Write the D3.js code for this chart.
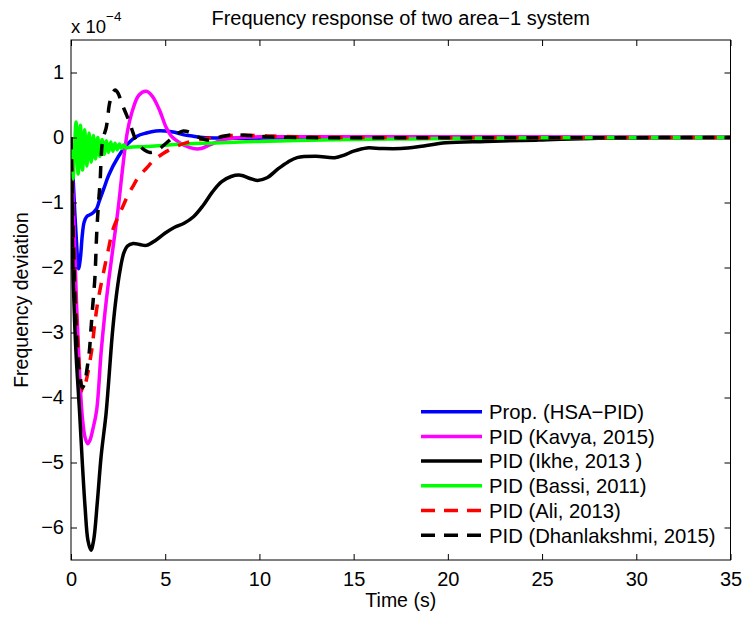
<!DOCTYPE html>
<html><head><meta charset="utf-8">
<script src="https://cdn.jsdelivr.net/npm/d3@7"></script>
<style>body{margin:0;background:#fff}svg{display:block}text{font-family:"Liberation Sans",Arial,Helvetica,sans-serif;fill:#000}</style>
</head><body><svg id="c" width="744" height="618"></svg>
<script>
const xTicks = [0,5,10,15,20,25,30,35];
const yTicks = [-6,-5,-4,-3,-2,-1,0,1];
const seriesNames = ["Prop. (HSA\u2212PID)","PID (Kavya, 2015)","PID (Ikhe, 2013 )","PID (Bassi, 2011)","PID (Ali, 2013)","PID (Dhanlakshmi, 2015)"];
const seriesColors = ["#0000ff","#ff00ff","#000000","#00ff00","#ff0000","#000000"];
const seriesDashed = [false,false,false,false,true,true];

const hsaPid = [[0,0],[0.1,-0.55],[0.2,-1.15],[0.3,-1.65],[0.4,-2.02],[0.5,-1.85],[0.6,-1.5],[0.7,-1.3],[0.85,-1.21],[1.0,-1.19],[1.2,-1.15],[1.35,-1.1],[1.5,-0.98],[1.75,-0.78],[2.0,-0.58],[2.5,-0.3],[3.0,-0.1],[3.5,0.02],[4.0,0.07],[4.5,0.1],[5.0,0.1],[5.5,0.08],[6.0,0.04],[6.5,0.02],[7,0.0],[8,-0.01],[10,-0.01],[14,0],[35,0]];
const kavya = [[0,0],[0.15,-1.3],[0.3,-2.6],[0.45,-3.6],[0.6,-4.3],[0.75,-4.62],[0.88,-4.71],[1.0,-4.66],[1.15,-4.5],[1.36,-4.2],[1.6,-3.3],[1.8,-2.7],[2.0,-2.2],[2.25,-1.65],[2.5,-1.1],[2.75,-0.45],[3.0,0.1],[3.3,0.45],[3.6,0.65],[4.0,0.71],[4.3,0.64],[4.7,0.42],[5.04,0.16],[5.3,0.03],[5.57,-0.04],[6.0,-0.12],[6.5,-0.17],[6.9,-0.17],[7.4,-0.11],[8,-0.04],[9,0.0],[10,0.01],[35,0]];
const ikhe = [[0,0],[0.05,-1.0],[0.1,-2.0],[0.2,-2.9],[0.3,-3.5],[0.45,-4.2],[0.6,-5.0],[0.75,-5.7],[0.9,-6.2],[1.06,-6.35],[1.2,-6.2],[1.4,-5.6],[1.6,-4.9],[1.86,-4.25],[2.0,-3.75],[2.2,-3.0],[2.4,-2.45],[2.6,-2.05],[2.8,-1.78],[3.0,-1.67],[3.3,-1.63],[3.7,-1.65],[4.0,-1.66],[4.5,-1.58],[5.0,-1.47],[5.5,-1.38],[6.0,-1.32],[6.5,-1.22],[7.0,-1.05],[7.5,-0.84],[8.0,-0.68],[8.5,-0.6],[9.0,-0.58],[9.5,-0.63],[9.9,-0.66],[10.4,-0.62],[11,-0.48],[11.5,-0.38],[12,-0.31],[13,-0.29],[14,-0.31],[14.5,-0.27],[15,-0.21],[15.7,-0.16],[16.5,-0.17],[17.5,-0.17],[18.5,-0.14],[19.9,-0.08],[22,-0.06],[24.8,-0.04],[28,-0.01],[35,0]];
const bassi = [[0,0],[0.1,-0.64],[0.27,0.24],[0.38,-0.56],[0.5,0.19],[0.61,-0.5],[0.73,0.12],[0.84,-0.44],[0.96,0.07],[1.07,-0.38],[1.19,0.03],[1.3,-0.33],[1.42,0.0],[1.53,-0.29],[1.65,-0.03],[1.76,-0.26],[1.88,-0.05],[1.99,-0.23],[2.11,-0.07],[2.22,-0.21],[2.34,-0.09],[2.45,-0.19],[2.57,-0.1],[2.68,-0.17],[2.8,-0.11],[2.91,-0.16],[3.1,-0.15],[4,-0.14],[5,-0.12],[6,-0.1],[7,-0.09],[8,-0.08],[10,-0.06],[12,-0.045],[14,-0.035],[17,-0.025],[20,-0.015],[25,-0.005],[30,0],[35,0]];
const ali = [[0,0],[0.1,-1.2],[0.2,-2.2],[0.35,-3.1],[0.5,-3.7],[0.65,-3.9],[0.8,-3.75],[0.94,-3.55],[1.11,-3.25],[1.24,-2.92],[1.41,-2.55],[1.68,-2.14],[2.0,-1.7],[2.21,-1.43],[2.5,-1.22],[2.74,-1.07],[3.0,-0.9],[3.27,-0.76],[3.6,-0.6],[3.98,-0.48],[4.4,-0.35],[4.87,-0.25],[5.57,-0.14],[6.14,-0.08],[6.8,-0.03],[7.55,0.0],[8.5,0.03],[9.3,0.035],[10.5,0.025],[12,0.01],[15,0],[35,0]];
const dhanlakshmi = [[0,0],[0.1,-1.3],[0.2,-2.4],[0.3,-3.1],[0.45,-3.65],[0.6,-3.85],[0.75,-3.75],[0.83,-3.6],[0.97,-3.3],[1.06,-2.95],[1.15,-2.6],[1.27,-2.15],[1.36,-1.5],[1.45,-1.05],[1.54,-0.7],[1.68,-0.04],[1.86,0.14],[1.95,0.31],[2.03,0.5],[2.2,0.68],[2.35,0.73],[2.5,0.68],[2.7,0.52],[2.9,0.38],[3.1,0.24],[3.27,0.09],[3.49,-0.07],[3.8,-0.17],[4.2,-0.23],[4.55,-0.2],[5.0,-0.1],[5.4,0.0],[5.7,0.07],[5.96,0.1],[6.3,0.08],[6.8,0.0],[7.3,-0.04],[7.8,0.0],[8.5,0.04],[9.5,0.03],[10.5,0.01],[12,0],[35,0]];
const seriesData = [hsaPid,kavya,ikhe,bassi,ali,dhanlakshmi];

const L=71,R=730.5,T=40,B=560;
const svg=d3.select("#c");
const x=d3.scaleLinear().domain([0,35]).range([L,R]);
const y=d3.scaleLinear().domain([-6.5,1.5]).range([B,T]);
const fmt=d3.format("d");
const FS=20;

svg.append("clipPath").attr("id","clip").append("rect").attr("x",L).attr("y",T).attr("width",R-L).attr("height",B-T);

const line=d3.line().x(d=>x(d[0])).y(d=>y(d[1])).curve(d3.curveCatmullRom.alpha(0.5));
const g=svg.append("g").attr("clip-path","url(#clip)");
seriesData.forEach((s,i)=>{
  g.append("path").attr("d",line(s)).attr("fill","none").attr("stroke",seriesColors[i])
   .attr("stroke-width",3.5).attr("stroke-dasharray",seriesDashed[i]?"12,10":null).attr("stroke-linejoin","round");
});

function styleAxis(sel){sel.select(".domain").remove();sel.selectAll(".tick line").attr("stroke","#000");sel.selectAll("text").attr("font-size",FS).attr("font-family","Liberation Sans, Arial, sans-serif");}
svg.append("g").attr("transform",`translate(0,${B})`).call(d3.axisBottom(x).tickValues(xTicks).tickFormat(fmt).tickSizeInner(-6).tickSizeOuter(0).tickPadding(12)).call(styleAxis);
svg.append("g").attr("transform",`translate(0,${T})`).call(d3.axisTop(x).tickValues(xTicks).tickFormat("").tickSizeInner(-6).tickSizeOuter(0)).call(styleAxis);
svg.append("g").attr("transform",`translate(${L},0)`).call(d3.axisLeft(y).tickValues(yTicks).tickFormat(fmt).tickSizeInner(-6).tickSizeOuter(0).tickPadding(7)).call(styleAxis);
svg.append("g").attr("transform",`translate(${R},0)`).call(d3.axisRight(y).tickValues(yTicks).tickFormat("").tickSizeInner(-6).tickSizeOuter(0)).call(styleAxis);
svg.append("rect").attr("x",L).attr("y",T).attr("width",R-L).attr("height",B-T).attr("fill","none").attr("stroke","#000").attr("stroke-width",1);

svg.append("text").attr("x",(L+R)/2).attr("y",25).attr("text-anchor","middle").attr("font-size",20).text("Frequency response of two area\u22121 system");
svg.append("text").attr("x",(L+R)/2).attr("y",607).attr("text-anchor","middle").attr("font-size",19.5).text("Time (s)");
svg.append("text").attr("transform","translate(28,300) rotate(-90)").attr("text-anchor","middle").attr("font-size",19.5).text("Frequency deviation");
svg.append("text").attr("x",71).attr("y",32.5).attr("font-size",18.5).text("x 10");
svg.append("text").attr("x",106).attr("y",21).attr("font-size",13.5).text("\u22124");

const lg=svg.append("g");
seriesNames.forEach((n,i)=>{
  const yy=411.7+i*24.7;
  lg.append("line").attr("x1",421).attr("x2",482).attr("y1",yy).attr("y2",yy).attr("stroke",seriesColors[i]).attr("stroke-width",3.5)
    .attr("stroke-dasharray",seriesDashed[i]?"14,9":null);
  lg.append("text").attr("x",489).attr("y",yy).attr("dy","0.36em").attr("font-size",20.3).text(n);
});
</script></body></html>
